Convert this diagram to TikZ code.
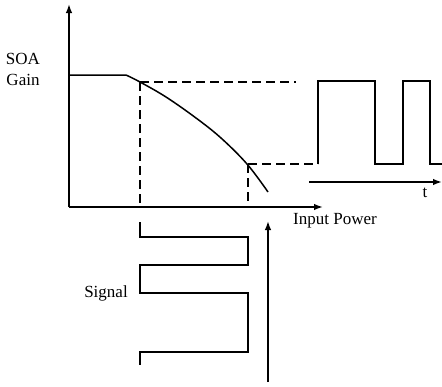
\documentclass[tikz,border=0pt]{standalone}
\usepackage{fontspec}
\setmainfont{Liberation Serif}
\usetikzlibrary{arrows.meta}
\tikzset{
  ln/.style={line width=1.5pt, line join=miter},
  dsh/.style={line width=1.4pt, dash pattern=on 9pt off 5pt},
  arr/.style={line width=1.5pt, -{Latex[length=9pt,width=6.5pt]}},
  lbl/.style={inner sep=0pt, font=\fontsize{17}{19}\selectfont}
}
\begin{document}
\begin{tikzpicture}[x=1pt,y=-1pt]
\useasboundingbox (0,0) rectangle (442,386);
% axes
\coordinate (O) at (69,207);
\coordinate (ytip) at (69,4);
\coordinate (xtip) at (323,207);
\draw[arr] (O) -- (ytip);
\draw[arr] (O) -- (xtip);
% gain curve
\draw[ln] (69,75) -- (126,75) plot[smooth, tension=0.6] coordinates {(126,75) (140,82) (166,97) (196,118) (221,138) (247,164) (268,192)};
% dashed guides
\draw[dsh] (140,82) -- (296,82);
\draw[dsh] (140,82) -- (140,205);
\draw[dsh] (248,164) -- (318,164);
\draw[dsh] (248,164) -- (248,207);
% output pulses
\draw[ln] (318,164) -- (318,81) -- (375,81) -- (375,164) -- (403,164) -- (403,81) -- (430,81) -- (430,164) -- (442,164);
% time axis
\coordinate (t0) at (309,182);
\coordinate (t1) at (442,182);
\draw[arr] (t0) -- (t1);
% input signal
\draw[ln] (140,222) -- (140,237) -- (248,237) -- (248,265) -- (140,265) -- (140,293) -- (248,293) -- (248,352) -- (140,352) -- (140,365);
\coordinate (s0) at (268,382);
\coordinate (s1) at (268,221);
\draw[arr] (s0) -- (s1);
% labels
\node[lbl] (soa) at (23,58.5) {SOA};
\node[lbl] (gain) at (23,79.5) {Gain};
\node[lbl] (ip) at (335,221) {Input Power};
\node[lbl] (sig) at (106,293) {Signal};
\node[lbl] (t) at (425,193) {t};
\end{tikzpicture}
\end{document}
